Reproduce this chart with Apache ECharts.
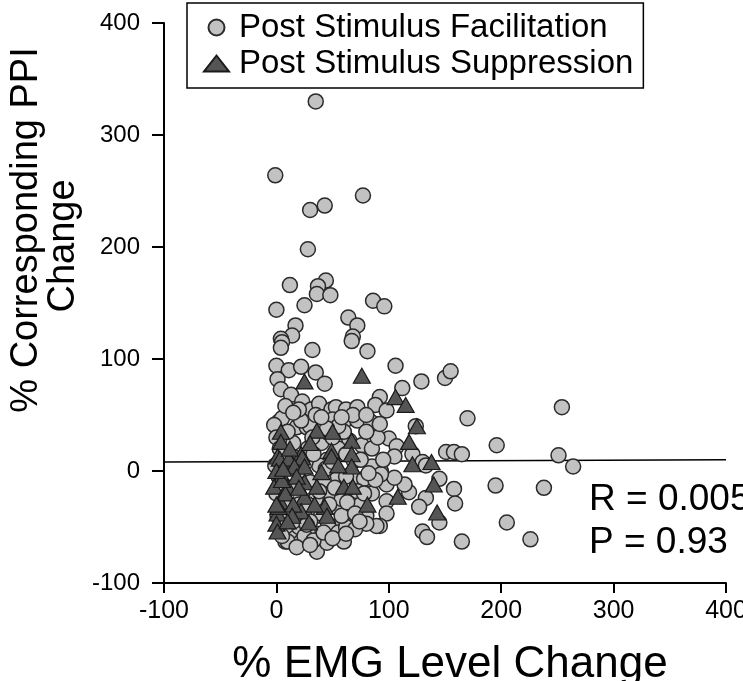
<!DOCTYPE html>
<html>
<head>
<meta charset="utf-8">
<script src="https://cdn.jsdelivr.net/npm/echarts@6/dist/echarts.min.js"></script>
<style>
html,body{margin:0;padding:0;background:#fff;}
#chart{width:743px;height:681px;}
</style>
</head>
<body>
<div id="chart"></div>
<script>
// % EMG level change (x) vs % corresponding PPI change (y)
var facilitation = [
[35,330],[-1,264],[77,246],[30,233],[43,237],[28,198],[44,170],[37,165],[36,158],[48,157],[12,166],[0,144],[25,148],[86,152],[96,147],[64,137],[72,130],[17,130],[14,121],[4,118],[68,120],
[5,115],[4,110],[67,116],[32,108],[81,107],
[106,94],[129,80],[150,83],[155,89],[0,94],[11,90],[22,93],[35,88],[43,78],[1,82],[4,73],[13,68],[23,62],[31,55],[38,60],[49,55],[53,57],[62,55],[72,57],[92,66],[88,59],[98,54],[112,74],
[2,44],[5,47],[-2,41],[18,39],[27,39],[50,46],[60,44],[72,45],[84,44],[65,27],[76,23],[100,29],[107,22],[105,13],[121,15],[130,8],[151,17],[124,40],[170,47],[158,17],[165,15],[196,23],[254,57],[251,14],[264,4],[195,-13],[238,-15],[205,-46],[226,-61],[165,-63],[130,-54],[134,-59],[158,-16],[159,-29],[145,-7],[118,-19],[133,-24],[127,-32],[145,-46],[114,-12],[133,5],[93,0],[98,-12],[98,-27],[98,-38],[92,-49],[105,-6],
[0,30],[3,20],[-1,5],[2,-5],[0,-20],[4,-30],[1,-40],[6,-45],[10,-55],[15,-60],[8,-63],[20,-50],[25,-40],[18,-25],[12,-15],[20,0],[28,20],[15,25],[10,35],[30,40],[22,45],
[69,9],[85,4],[93,-3],[54,-7],[70,-7],[78,-7],[52,-32],[65,-37],[80,-40],[89,-49],[80,-47],[52,-50],[36,-56],[60,-63],[22,-63],[10,-63],[36,-72],[45,-64],[40,-38],[9,-49],[45,10],[55,20],[40,25],[60,35],[48,-20],[58,-25],[72,-18],[35,-25],[30,-10],[62,15],[75,10],[85,20],[90,30],[50,30],[42,-8],[66,-45],[28,-55],[46,-48],[75,-30],[85,-20],[55,40],[80,35],[38,5],[32,30],[20,-30],[30,-45],
[15,-45],[25,-58],[33,-62],[42,-55],[55,-55],[62,-50],[70,-52],[58,-40],[47,-30],[38,-18],[28,-30],[14,-35],[6,-28],[3,-12],[8,3],[16,12],[26,8],[33,15],[44,2],[52,-15],[63,-28],[70,-38],[78,-20],[88,-8],[95,10],[82,-2],[62,-5],[50,8],[35,50],[45,38],[68,50],[80,50],[92,42],[20,55],[8,58],[58,48],[15,52],[40,48],[27,-48],[50,-60],[18,-68],[5,-58],[30,-66],[62,-56],[74,-45]
];
var suppression = [
[76,85],[25,80],[106,66],[115,59],[125,40],[118,26],[138,8],[121,6],[140,-12],[143,-37],[108,-23],[67,27],[50,35],[36,36],[49,18],[67,15],[4,35],[4,26],[13,9],[22,15],[1,13],[3,11],[11,11],[23,12],[16,4],[25,4],[5,-4],[40,-1],[49,13],[67,4],[-2,-14],[10,-14],[25,-10],[36,-14],[60,-14],[68,-14],[3,-27],[25,-23],[43,-32],[22,-36],[1,-38],[0,-47],[29,-46],[1,-54],[81,-30],[8,-20],[15,-30],[5,-8],[18,-5],[0,0],[12,20],[30,25],[2,-32],[14,-40],[34,-30],[45,-40],[55,5],[10,-45],[0,-30],[6,2],[20,-15]
];
var regression = [[-100,8],[400,10]];
var legendNames = ['Post Stimulus Facilitation','Post Stimulus Suppression'];
var statsText = ['R = 0.005','P = 0.93'];
var xName = '% EMG Level Change';
var yNameLines = ['% Corresponding PPI','Change'];

var FONT = '"Liberation Sans", Arial, sans-serif';
var chart = echarts.init(document.getElementById('chart'));
chart.setOption({
  animation: false,
  backgroundColor: '#fff',
  textStyle: {fontFamily: FONT},
  grid: {left: 164, right: 17, top: 23, bottom: 98, containLabel: false, outerBoundsMode: 'none'},
  legend: {
    orient: 'vertical',
    left: 187, top: 3,
    padding: [8, 10, 8, 16],
    borderColor: '#000', borderWidth: 1.5,
    itemWidth: 25, itemHeight: 16, itemGap: 3,
    textStyle: {fontSize: 33, color: '#000', fontFamily: FONT, padding: [0,0,0,5], lineHeight: 33},
    data: [
      {name: legendNames[0], icon: 'circle'},
      {name: legendNames[1], icon: 'triangle'}
    ]
  },
  xAxis: {
    type: 'value', min: -100, max: 400, interval: 100,
    name: xName, nameLocation: 'middle', nameGap: 60,
    nameTextStyle: {fontSize: 44, color: '#000', fontFamily: FONT, padding: [0, 0, 0, 10]},
    axisLine: {show: true, onZero: false, lineStyle: {color: '#000', width: 2}},
    axisTick: {show: true, length: 10, lineStyle: {color: '#000', width: 2}},
    axisLabel: {fontSize: 25, color: '#000', margin: 16, fontFamily: FONT},
    splitLine: {show: false}
  },
  yAxis: {
    type: 'value', min: -100, max: 400, interval: 100,
    axisLine: {show: true, onZero: false, lineStyle: {color: '#000', width: 2}},
    axisTick: {show: true, length: 12, lineStyle: {color: '#000', width: 2}},
    axisLabel: {fontSize: 24, color: '#000', margin: 24, fontFamily: FONT},
    splitLine: {show: false}
  },
  graphic: [
    {type: 'text', x: 27, y: 230, rotation: Math.PI/2,
     style: {text: yNameLines[0], font: '38px ' + FONT, fill: '#000', align: 'center', verticalAlign: 'middle'}},
    {type: 'text', x: 64, y: 246, rotation: Math.PI/2,
     style: {text: yNameLines[1], font: '38px ' + FONT, fill: '#000', align: 'center', verticalAlign: 'middle'}},
    {type: 'text', x: 589, y: 500,
     style: {text: statsText[0], font: '37px ' + FONT, fill: '#000', align: 'left', verticalAlign: 'middle'}},
    {type: 'text', x: 589, y: 543,
     style: {text: statsText[1], font: '37px ' + FONT, fill: '#000', align: 'left', verticalAlign: 'middle'}}
  ],
  series: [
    {type: 'line', data: regression, symbol: 'none', silent: true, z: 1,
     lineStyle: {color: '#000', width: 1.5}},
    {type: 'scatter', name: legendNames[0], data: facilitation, symbol: 'circle', symbolSize: 15, z: 2,
     itemStyle: {color: '#c2c2c2', borderColor: '#2a2a2a', borderWidth: 1.5, opacity: 1}},
    {type: 'scatter', name: legendNames[1], data: suppression, symbol: 'triangle', symbolSize: [17, 15], z: 3,
     itemStyle: {color: '#555', borderColor: '#1a1a1a', borderWidth: 1.2, opacity: 1}}
  ]
});
</script>
</body>
</html>
